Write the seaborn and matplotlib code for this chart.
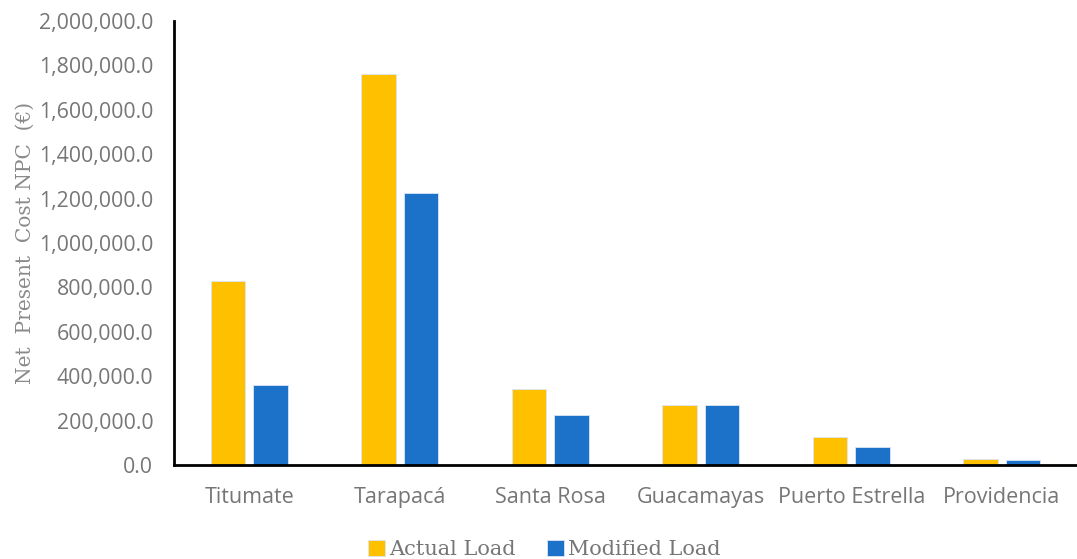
import matplotlib
matplotlib.use("Agg")
import matplotlib.pyplot as plt
import seaborn as sns
import pandas as pd
from matplotlib.ticker import FuncFormatter

sites = ["Titumate", "Tarapacá", "Santa Rosa", "Guacamayas", "Puerto Estrella", "Providencia"]
actual_load = [830000, 1762000, 343000, 270000, 125000, 27000]
modified_load = [360000, 1226000, 225000, 270000, 82000, 23000]
series_names = ["Actual Load", "Modified Load"]
colors = ["#FFC000", "#1B72C8"]

df = pd.DataFrame({
    "Site": sites * 2,
    "NPC": actual_load + modified_load,
    "Series": [series_names[0]] * len(sites) + [series_names[1]] * len(sites),
})

sns.set_theme(style="white")
fig = plt.figure(figsize=(10.77, 5.59), dpi=100)
ax = fig.add_axes([174/1077, (559-465)/559, (1077-174)/1077, (465-21)/559])

sns.barplot(data=df, x="Site", y="NPC", hue="Series", palette=colors, saturation=1,
            width=0.56, gap=0.18, ax=ax, edgecolor="#dbe6f5", linewidth=0.6,
            legend=True)

ax.set_ylim(0, 2000000)
ax.set_yticks(range(0, 2000001, 200000))
ax.yaxis.set_major_formatter(FuncFormatter(lambda v, p: f"{v:,.1f}"))
ax.set_xlim(-0.5, len(sites) - 0.5)

tick_font = "Open Sans"
for lbl in ax.get_yticklabels():
    lbl.set_fontfamily(tick_font)
    lbl.set_fontsize(15.3)
    lbl.set_color("#767676")
for lbl in ax.get_xticklabels():
    lbl.set_fontfamily(tick_font)
    lbl.set_fontsize(15.5)
    lbl.set_color("#767676")
ax.tick_params(axis="x", pad=16, length=0)
ax.tick_params(axis="y", pad=15, length=0)

ax.set_xlabel("")
ax.set_ylabel("Net  Present  Cost NPC  (€)", fontfamily="DejaVu Serif", fontsize=14.5,
              color="#8a8a8a", labelpad=3)

for s in ["top", "right"]:
    ax.spines[s].set_visible(False)
for s in ["left", "bottom"]:
    ax.spines[s].set_color("black")
    ax.spines[s].set_linewidth(2)

handles, labels = ax.get_legend_handles_labels()
ax.legend(handles, labels, loc="lower center", bbox_to_anchor=(0.41, -0.255),
          ncol=2, frameon=False, handlelength=0.8, handleheight=0.8, handletextpad=0.2,
          columnspacing=1.5, prop={"family": "DejaVu Serif", "size": 15}, labelcolor="#767676")

fig.savefig("out.png", dpi=100)
